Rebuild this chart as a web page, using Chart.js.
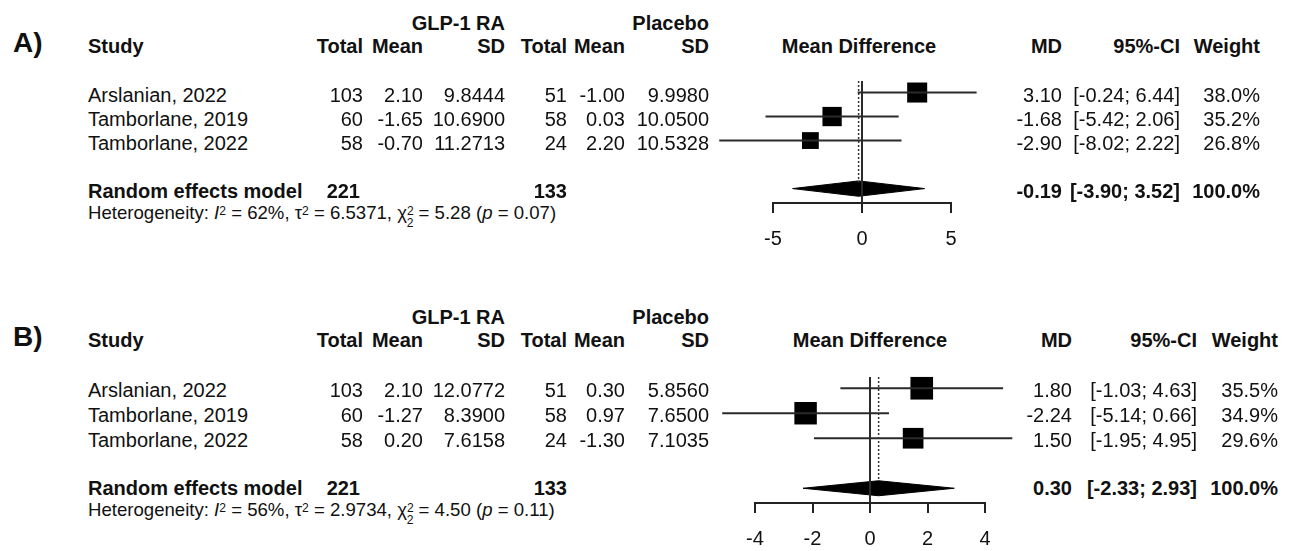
<!DOCTYPE html>
<html><head><meta charset="utf-8">
<script src="https://cdn.jsdelivr.net/npm/chart.js@4.4.0/dist/chart.umd.min.js"></script>
<style>
html,body{margin:0;padding:0;background:#fff;width:1292px;height:551px;overflow:hidden;position:relative;font-family:"Liberation Sans",Arial,sans-serif;color:#111;}
.t{position:absolute;white-space:nowrap;line-height:1;}
.b{font-weight:bold;}
sup{font-size:0.65em;vertical-align:0.36em;line-height:0;}
sub{font-size:0.65em;vertical-align:-0.68em;line-height:0;}
.wrap{position:absolute;}
</style></head><body>
<div class="wrap" style="left:690px;top:60px;"><canvas id="cA" width="310" height="200"></canvas></div>
<div class="wrap" style="left:690px;top:360px;"><canvas id="cB" width="330" height="191"></canvas></div>
<script>
// ---------- DATA ----------
const studies = ["Arslanian, 2022", "Tamborlane, 2019", "Tamborlane, 2022"];
const totalGLP = [103, 60, 58];
const totalPlacebo = [51, 58, 24];
const totalGLPPooled = 221;
const totalPlaceboPooled = 133;

// Panel A
const meanGLP_A = ["2.10", "-1.65", "-0.70"];
const sdGLP_A = ["9.8444", "10.6900", "11.2713"];
const meanPlc_A = ["-1.00", "0.03", "2.20"];
const sdPlc_A = ["9.9980", "10.0500", "10.5328"];
const md_A = [3.10, -1.68, -2.90];
const ciLow_A = [-0.24, -5.42, -8.02];
const ciHigh_A = [6.44, 2.06, 2.22];
const weight_A = [38.0, 35.2, 26.8];
const pooled_A = [-0.19, -3.90, 3.52];   // MD, lower, upper
const het_A = ["62%", "6.5371", "5.28", "0.07"];
const ticks_A = [-5, 0, 5];

// Panel B
const meanGLP_B = ["2.10", "-1.27", "0.20"];
const sdGLP_B = ["12.0772", "8.3900", "7.6158"];
const meanPlc_B = ["0.30", "0.97", "-1.30"];
const sdPlc_B = ["5.8560", "7.6500", "7.1035"];
const md_B = [1.80, -2.24, 1.50];
const ciLow_B = [-1.03, -5.14, -1.95];
const ciHigh_B = [4.63, 0.66, 4.95];
const weight_B = [35.5, 34.9, 29.6];
const pooled_B = [0.30, -2.33, 2.93];
const het_B = ["56%", "2.9734", "4.50", "0.11"];
const ticks_B = [-4, -2, 0, 2, 4];

// ---------- TEXT ----------
function txt(x, base, html, size, bold, align) {
  const d = document.createElement('div');
  d.className = 't' + (bold ? ' b' : '');
  d.style.fontSize = size + 'px';
  d.style.top = (base - 0.8465 * size) + 'px';
  if (align === 'right') d.style.right = (1292 - x) + 'px';
  else if (align === 'center') { d.style.left = x + 'px'; d.style.transform = 'translateX(-50%)'; }
  else d.style.left = x + 'px';
  d.innerHTML = html;
  document.body.appendChild(d);
}
const f2 = v => v.toFixed(2);
const pct = v => v.toFixed(1) + '%';

function panelText(o) {
  const L = [363, 423, 505, 567, 625, 709];
  const R = o.rightCols;
  const dy = o.dy;
  txt(13, 53 + dy, o.label, 28, true, 'left');
  txt(505, 29.5 + dy, 'GLP-1 RA', 20, true, 'right');
  txt(709, 29.5 + dy, 'Placebo', 20, true, 'right');
  txt(88, 53 + dy, 'Study', 20, true, 'left');
  const hdr = ['Total', 'Mean', 'SD', 'Total', 'Mean', 'SD'];
  hdr.forEach((h, i) => txt(L[i], 53 + dy, h, 20, true, 'right'));
  txt(o.mdCenter, 53 + dy, 'Mean Difference', 20, true, 'center');
  txt(R[0], 53 + dy, 'MD', 20, true, 'right');
  txt(R[1], 53 + dy, '95%-CI', 20, true, 'right');
  txt(R[2], 53 + dy, 'Weight', 20, true, 'right');
  studies.forEach((s, i) => {
    const b = o.rowBase[i];
    txt(88, b, s, 20, false, 'left');
    const vals = [totalGLP[i], o.mG[i], o.sG[i], totalPlacebo[i], o.mP[i], o.sP[i]];
    vals.forEach((v, j) => txt(L[j], b, String(v), 20, false, 'right'));
    txt(R[0], b, f2(o.md[i]), 20, false, 'right');
    txt(R[1], b, '[' + f2(o.lo[i]) + '; ' + f2(o.hi[i]) + ']', 20, false, 'right');
    txt(R[2], b, pct(o.w[i]), 20, false, 'right');
  });
  const pb = o.poolBase;
  txt(88, pb, 'Random effects model', 20, true, 'left');
  txt(L[0] - 3, pb, String(totalGLPPooled), 20, true, 'right');
  txt(L[3], pb, String(totalPlaceboPooled), 20, true, 'right');
  txt(R[0], pb, f2(o.pooled[0]), 20, true, 'right');
  txt(R[1], pb, '[' + f2(o.pooled[1]) + '; ' + f2(o.pooled[2]) + ']', 20, true, 'right');
  txt(R[2], pb, '100.0%', 20, true, 'right');
  const h = o.het;
  txt(88, o.hetBase,
    'Heterogeneity: <i>I</i><sup>2</sup> = ' + h[0] + ', τ<sup>2</sup> = ' + h[1] +
    ', χ<sup>2</sup><sub style="margin-left:-7px">2</sub> = ' + h[2] + ' (<i>p</i> = ' + h[3] + ')',
    18.6, false, 'left');
}

panelText({label: 'A)', dy: 0, rightCols: [1062, 1180, 1260], mdCenter: 859,
  rowBase: [102, 126, 150], poolBase: 197.5, hetBase: 220,
  mG: meanGLP_A, sG: sdGLP_A, mP: meanPlc_A, sP: sdPlc_A,
  md: md_A, lo: ciLow_A, hi: ciHigh_A, w: weight_A, pooled: pooled_A, het: het_A});
panelText({label: 'B)', dy: 294, rightCols: [1072, 1197, 1278], mdCenter: 870,
  rowBase: [397, 422, 447], poolBase: 494.5, hetBase: 517,
  mG: meanGLP_B, sG: sdGLP_B, mP: meanPlc_B, sP: sdPlc_B,
  md: md_B, lo: ciLow_B, hi: ciHigh_B, w: weight_B, pooled: pooled_B, het: het_B});

// ---------- CHARTS ----------
function forest(id, p) {
  const ds = [];
  const lineCol = '#2a2a2a';
  ds.push({data: [{x: 0, y: p.yMin}, {x: 0, y: p.yMax}], borderColor: lineCol, borderWidth: 2, pointRadius: 0, clip: false});
  ds.push({data: [{x: p.pooled[0], y: p.yMin}, {x: p.pooled[0], y: p.dotEnd}], borderColor: '#333', borderWidth: 1.5, borderDash: [2, 2], pointRadius: 0, clip: false});
  p.md.forEach((m, i) => {
    ds.push({data: [{x: p.lo[i], y: i + 1}, {x: p.hi[i], y: i + 1}], borderColor: lineCol, borderWidth: 2, pointRadius: 0, clip: false});
  });
  ds.push({showLine: false, data: p.md.map((m, i) => ({x: m, y: i + 1})),
    pointStyle: 'rect', pointRadius: p.w.map(w => p.k * Math.sqrt(w) / Math.SQRT2),
    pointBackgroundColor: '#000', pointBorderWidth: 0, clip: false});
  const yd = 5, hh = p.dh;
  ds.push({data: [{x: p.pooled[1], y: yd}, {x: p.pooled[0], y: yd - hh}, {x: p.pooled[2], y: yd}, {x: p.pooled[0], y: yd + hh}, {x: p.pooled[1], y: yd}],
    fill: 'shape', backgroundColor: '#000', borderColor: '#000', borderWidth: 1, pointRadius: 0, tension: 0, clip: false});
  return new Chart(document.getElementById(id), {
    type: 'line',
    data: {datasets: ds},
    options: {
      responsive: false, animation: false, devicePixelRatio: 1,
      layout: {padding: p.pad},
      plugins: {legend: {display: false}, tooltip: {enabled: false}},
      elements: {line: {tension: 0}},
      scales: {
        x: {type: 'linear', position: 'bottom', min: p.xMin, max: p.xMax,
          afterBuildTicks: s => { s.ticks = p.ticks.map(v => ({value: v})); },
          afterFit: s => { s.height = 47; },
          grid: {drawOnChartArea: false, drawTicks: true, tickLength: 10, color: '#222', lineWidth: 2},
          border: {display: true, color: '#222', width: 2},
          ticks: {color: '#111', font: {family: '"Liberation Sans", Arial, sans-serif', size: 20}, padding: 14,
            maxRotation: 0, autoSkip: false, callback: v => String(v)}},
        y: {type: 'linear', display: false, reverse: true, min: p.yMin, max: p.yMax}
      }
    }
  });
}

forest('cA', {xMin: -5, xMax: 5, ticks: ticks_A, yMin: 0.52, yMax: 5.6, dotEnd: 4.75,
  pad: {left: 83, right: 49, top: 21, bottom: 10},
  md: md_A, lo: ciLow_A, hi: ciHigh_A, w: weight_A, pooled: pooled_A, k: 3.25, dh: 0.32});
forest('cB', {xMin: -4, xMax: 4, ticks: ticks_B, yMin: 0.55, yMax: 5.59, dotEnd: 4.7,
  pad: {left: 65, right: 35, top: 17, bottom: 1},
  md: md_B, lo: ciLow_B, hi: ciHigh_B, w: weight_B, pooled: pooled_B, k: 3.8, dh: 0.3});
</script>
</body></html>
